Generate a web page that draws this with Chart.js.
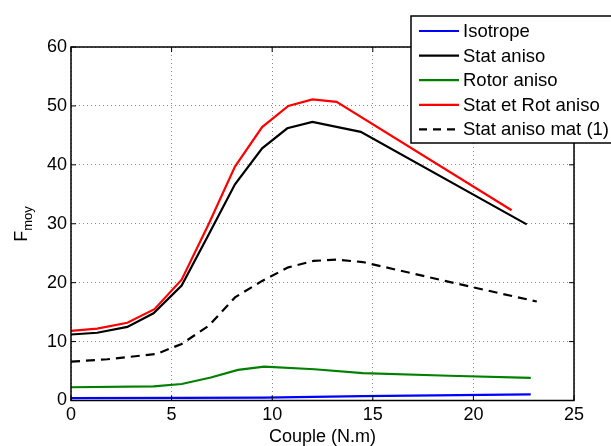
<!DOCTYPE html>
<html>
<head>
<meta charset="utf-8">
<script src="https://cdn.jsdelivr.net/npm/chart.js@4"></script>
<style>
  body { margin: 0; background: #fff; }
  canvas { display: block; }
</style>
</head>
<body>
<canvas id="chart" width="611" height="446"></canvas>
<script>
// series data (x = Couple, y = Fmoy)
const seriesNames = ['Isotrope', 'Stat aniso', 'Rotor aniso', 'Stat et Rot aniso', 'Stat aniso mat (1)'];

const isoX = [0, 5.5, 9.6, 14.5, 22.85];
const isoY = [0.4, 0.45, 0.5, 0.75, 1.05];

const statX = [0, 1.3, 2.8, 4.1, 5.5, 6.85, 8.15, 9.5, 10.75, 12.0, 14.4, 22.65];
const statY = [11.2, 11.5, 12.5, 14.8, 19.5, 28.2, 36.7, 42.8, 46.2, 47.3, 45.6, 29.9];

const rotX = [0, 4.1, 5.5, 6.95, 8.3, 9.6, 12.1, 14.5, 18.8, 22.85];
const rotY = [2.25, 2.4, 2.8, 3.9, 5.2, 5.75, 5.3, 4.65, 4.2, 3.85];

const statRotX = [0, 1.3, 2.8, 4.15, 5.5, 6.85, 8.15, 9.5, 10.8, 12.0, 13.2, 21.9];
const statRotY = [11.8, 12.2, 13.2, 15.5, 20.5, 30.0, 39.7, 46.4, 50.0, 51.1, 50.7, 32.3];

const matX = [0, 1.8, 4.25, 5.5, 6.85, 8.15, 9.5, 10.8, 12.05, 13.2, 14.5, 20.0, 23.15];
const matY = [6.6, 7.0, 7.9, 9.6, 12.7, 17.5, 20.3, 22.6, 23.7, 23.9, 23.5, 19.2, 16.8];

const xTicks = [0, 5, 10, 15, 20, 25];
const yTicks = [0, 10, 20, 30, 40, 50, 60];

const FONT = '"Liberation Sans", Arial, sans-serif';

function pts(xs, ys) {
    return xs.map((x, i) => ({ x: x, y: ys[i] }));
}

function makeSet(label, xs, ys, color, dash) {
    return {
        label: label,
        data: pts(xs, ys),
        borderColor: color,
        backgroundColor: color,
        borderWidth: 2.2,
        borderDash: dash || [],
        pointRadius: 0,
        tension: 0,
        fill: false
    };
}

// frame, inward ticks, axis titles and the legend box
const framePlugin = {
    id: 'frame',
    afterDraw(chart) {
        const ctx = chart.ctx;
        const a = chart.chartArea;
        const xs = chart.scales.x, ys = chart.scales.y;
        ctx.save();
        ctx.strokeStyle = '#000';
        ctx.lineWidth = 1.5;
        ctx.setLineDash([]);
        ctx.strokeRect(a.left, a.top, a.right - a.left, a.bottom - a.top);

        // little inward ticks on all four sides
        ctx.lineWidth = 1;
        ctx.beginPath();
        xTicks.forEach(t => {
            const px = xs.getPixelForValue(t);
            ctx.moveTo(px, a.bottom); ctx.lineTo(px, a.bottom - 5);
            ctx.moveTo(px, a.top); ctx.lineTo(px, a.top + 5);
        });
        yTicks.forEach(t => {
            const py = ys.getPixelForValue(t);
            ctx.moveTo(a.left, py); ctx.lineTo(a.left + 5, py);
            ctx.moveTo(a.right, py); ctx.lineTo(a.right - 5, py);
        });
        ctx.stroke();

        // x title
        ctx.fillStyle = '#000';
        ctx.font = '18px ' + FONT;
        ctx.textAlign = 'center';
        ctx.textBaseline = 'alphabetic';
        ctx.fillText('Couple (N.m)', (a.left + a.right) / 2, 442);

        // y title F with subscript moy, rotated
        ctx.save();
        ctx.translate(27, 224);
        ctx.rotate(-Math.PI / 2);
        ctx.textAlign = 'left';
        ctx.font = '18px ' + FONT;
        const fw = ctx.measureText('F').width;
        ctx.font = '13px ' + FONT;
        const mw = ctx.measureText('moy').width;
        const start = -(fw + mw) / 2;
        ctx.font = '18px ' + FONT;
        ctx.fillText('F', start, 0);
        ctx.font = '13px ' + FONT;
        ctx.fillText('moy', start + fw, 5);
        ctx.restore();

        // legend
        const lx = 411, ly = 16, lw = 220, lh = 127;
        ctx.fillStyle = '#fff';
        ctx.fillRect(lx, ly, lw, lh);
        ctx.lineWidth = 1.5;
        ctx.strokeStyle = '#000';
        ctx.strokeRect(lx, ly, lw, lh);
        ctx.font = '18.5px ' + FONT;
        ctx.textAlign = 'left';
        ctx.textBaseline = 'middle';
        chart.data.datasets.forEach((ds, i) => {
            const cy = 31 + i * 24.6;
            ctx.strokeStyle = ds.borderColor;
            ctx.lineWidth = 2.2;
            ctx.setLineDash(ds.borderDash.length ? [8, 6] : []);
            ctx.beginPath();
            ctx.moveTo(419, cy);
            ctx.lineTo(459, cy);
            ctx.stroke();
            ctx.setLineDash([]);
            ctx.fillStyle = '#000';
            ctx.fillText(ds.label, 463, cy + 1);
        });
        ctx.restore();
    }
};

new Chart(document.getElementById('chart'), {
    type: 'line',
    data: {
        datasets: [
            makeSet(seriesNames[0], isoX, isoY, '#0000ff'),
            makeSet(seriesNames[1], statX, statY, '#000000'),
            makeSet(seriesNames[2], rotX, rotY, '#008000'),
            makeSet(seriesNames[3], statRotX, statRotY, '#ff0000'),
            makeSet(seriesNames[4], matX, matY, '#000000', [9, 6])
        ]
    },
    options: {
        responsive: false,
        animation: false,
        devicePixelRatio: 1,
        layout: { padding: { left: 0, top: 47, right: 37, bottom: 0 } },
        plugins: {
            legend: { display: false },
            tooltip: { enabled: false }
        },
        scales: {
            x: {
                type: 'linear',
                min: 0,
                max: 25,
                afterFit: s => { s.height = 45.5; },
                afterBuildTicks: s => { s.ticks = xTicks.map(v => ({ value: v })); },
                ticks: { color: '#000', font: { family: FONT, size: 18 }, padding: 4, maxRotation: 0 },
                grid: { color: '#888', drawTicks: false, lineWidth: 1 },
                border: { display: false, dash: [1, 3] }
            },
            y: {
                min: 0,
                max: 60,
                afterFit: s => { s.width = 71; },
                afterBuildTicks: s => { s.ticks = yTicks.map(v => ({ value: v })); },
                ticks: { color: '#000', font: { family: FONT, size: 18 }, padding: 4 },
                grid: { color: '#888', drawTicks: false, lineWidth: 1 },
                border: { display: false, dash: [1, 3] }
            }
        }
    },
    plugins: [framePlugin]
});
</script>
</body>
</html>
